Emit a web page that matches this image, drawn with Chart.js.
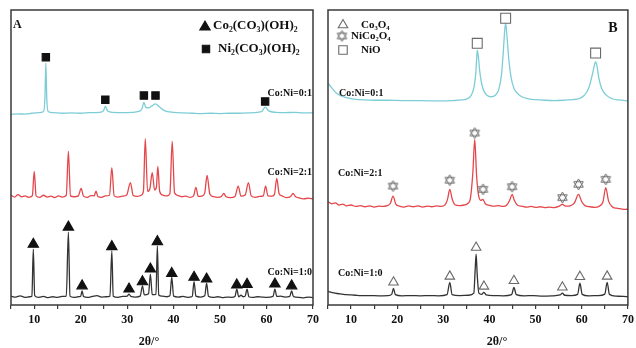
<!DOCTYPE html>
<html>
<head>
<meta charset="utf-8">
<script src="https://cdn.jsdelivr.net/npm/chart.js@4.4.0/dist/chart.umd.min.js"></script>
<style>
  html, body { margin: 0; padding: 0; background: #fff; }
  #wrap { position: relative; width: 636px; height: 348px; overflow: hidden; }
  #chartA { position: absolute; left: 0; top: 0; }
  #chartB { position: absolute; left: 316px; top: 0; }
</style>
</head>
<body>
<div id="wrap">
  <canvas id="chartA" width="330" height="348"></canvas>
  <canvas id="chartB" width="320" height="348"></canvas>
</div>
<script>
// x axis: 2theta in degrees
const xTickLabels = [10, 20, 30, 40, 50, 60, 70];
const xTitle = '2θ/°';

// ---- panel A: precursors, [2theta, stacked intensity] ----
const aCo10 = [[5,3.0],[6,2.7],[7,3.1],[8,2.6],[9,2.8],[9.5,3.0],[9.8,18.9],[10.1,3.2],[11,2.6],[12,2.9],[13,2.5],[14,2.8],[15,2.6],[16,2.9],[16.9,3.0],[17.35,24.7],[17.7,3.0],[18.5,2.6],[19.5,2.8],[20.0,3.0],[20.3,4.8],[20.6,2.9],[21.5,2.6],[22.5,2.9],[23.5,3.2],[24.5,2.7],[25.5,2.8],[26.3,3.0],[26.7,18.3],[27.0,3.0],[28,2.6],[29,2.9],[30,3.0],[30.4,3.7],[30.8,2.9],[31.8,2.7],[32.8,3.0],[33.3,6.5],[33.7,3.4],[34.6,3.8],[35.0,10.5],[35.4,3.5],[36.2,3.6],[36.5,20.0],[36.8,3.4],[37.5,3.0],[38.5,2.8],[39.2,3.1],[39.6,9.4],[40.0,3.0],[41,2.7],[42,2.9],[43,2.6],[44.0,2.9],[44.4,7.9],[44.8,3.0],[45.8,2.7],[46.7,3.1],[47.1,7.4],[47.5,3.0],[48.5,2.6],[49.5,2.8],[50.5,2.5],[51.5,2.7],[52.5,2.6],[53.2,2.9],[53.6,5.4],[54.0,2.8],[54.5,3.3],[55.0,2.8],[55.4,3.0],[55.8,5.4],[56.2,2.8],[57,2.6],[58,2.8],[59,2.7],[60,2.6],[61.4,2.9],[61.8,5.4],[62.2,2.9],[63,3.0],[64,2.7],[65.0,2.9],[65.4,4.8],[65.8,2.8],[67,2.6],[68,2.4],[69,2.7],[70,2.5]];
const aCo21 = [[5,37.2],[5.8,36.6],[6.5,37.4],[7.3,36.7],[8,37.0],[8.8,36.5],[9.6,37.1],[10,45.3],[10.4,37.0],[11.2,36.5],[12,37.2],[12.8,36.6],[13.6,36.9],[14.4,36.4],[15.2,37.0],[16,36.6],[16.9,37.2],[17.35,52.1],[17.8,37.0],[18.6,36.7],[19.5,37.0],[20.1,39.5],[20.6,36.9],[21.4,36.5],[22.2,37.1],[22.9,37.0],[23.3,38.6],[23.7,36.8],[24.5,36.5],[25.3,37.0],[26.2,37.2],[26.7,46.6],[27.2,37.0],[28,36.6],[29,36.9],[29.9,37.3],[30.7,41.5],[31.3,37.1],[32.2,36.8],[33.0,37.2],[33.5,38.5],[33.9,56.4],[34.4,38.5],[34.9,39.5],[35.4,44.9],[35.9,39.0],[36.3,40.0],[36.6,47.0],[37.0,38.5],[37.8,37.2],[38.6,37.0],[39.2,37.8],[39.7,55.5],[40.2,38.0],[41,37.1],[41.8,36.7],[42.6,36.9],[43.5,36.5],[44.3,37.0],[44.8,39.9],[45.3,36.8],[46.2,37.0],[46.7,38.0],[47.2,43.9],[47.8,37.6],[48.6,36.7],[49.5,36.5],[50.3,36.8],[50.8,37.8],[51.3,36.7],[52.2,36.4],[53.2,36.8],[53.9,40.3],[54.5,36.9],[55.4,37.3],[56.1,41.5],[56.7,37.0],[57.6,36.5],[58.5,36.8],[59.3,37.0],[59.8,40.3],[60.3,37.0],[61.2,36.9],[61.7,37.5],[62.2,42.9],[62.7,37.8],[63.3,37.0],[64.2,36.4],[65.2,36.8],[65.7,37.8],[66.2,36.8],[67,36.3],[68,36.0],[69,36.2],[70,35.9]];
const aCo01 = [[5,64.6],[6.5,64.8],[8,64.7],[9.5,65.0],[11,65.2],[12.0,65.6],[12.3,70.0],[12.5,82.0],[12.7,70.0],[13.0,65.6],[14,65.2],[16,65.0],[18,65.1],[20,65.0],[22,65.2],[24,65.3],[24.9,65.8],[25.3,67.3],[25.8,65.8],[27,65.3],[29,65.2],[31,65.3],[32.5,65.6],[33.2,66.5],[33.6,68.7],[34.0,67.0],[34.6,66.8],[35.4,67.6],[36.1,68.2],[36.9,67.2],[38,65.9],[40,65.3],[42,65.1],[44,65.0],[46,64.9],[48,65.0],[50,64.9],[52,65.0],[54,65.0],[56,65.1],[58,65.3],[59.1,65.8],[59.7,67.1],[60.4,65.9],[62,65.3],[64,65.2],[66,65.3],[68,65.1],[70,65.2]];
const aTriangles = [[9.8,20.6],[17.35,26.4],[20.3,6.5],[26.7,19.8],[30.4,5.4],[33.3,7.9],[35.0,12.2],[36.5,21.5],[39.6,10.7],[44.4,9.4],[47.1,8.8],[53.6,6.8],[55.8,7.0],[61.8,7.1],[65.4,6.5]];
const aSquares = [[12.5,84.0],[25.3,69.6],[33.6,71.0],[36.1,71.0],[59.7,69.0]];

// ---- panel B: calcined oxides ----
const bCo10 = [[5,4.6],[6,4.2],[7,3.9],[8,3.7],[9,3.5],[10,3.4],[11,3.3],[12,3.2],[14,3.2],[16,3.1],[18,3.2],[18.8,3.6],[19.2,5.6],[19.6,3.5],[21,3.1],[23,3.2],[25,3.1],[27,3.2],[29,3.1],[30.8,3.5],[31.4,7.7],[31.9,3.5],[33.5,3.2],[35.5,3.3],[36.6,4.0],[36.9,12.0],[37.1,17.2],[37.35,10.0],[37.7,4.0],[38.3,3.6],[38.8,4.3],[39.3,3.4],[41,3.2],[43,3.1],[44.8,3.5],[45.3,6.0],[45.8,3.5],[47.5,3.1],[49.5,3.2],[51.5,3.0],[53.5,3.1],[55.3,3.4],[55.8,4.0],[56.3,3.3],[57.8,3.2],[59.1,3.6],[59.6,7.4],[60.1,3.6],[61.5,3.1],[63.5,3.2],[65.0,3.7],[65.5,7.7],[66.0,3.6],[67.5,3.0],[69,2.9],[70,2.8]];
const bCo21 = [[5,35.0],[5.8,34.3],[6.6,34.6],[7.4,33.9],[8.2,34.2],[9,33.6],[10,33.9],[11,33.4],[12,33.7],[13,33.3],[14,33.6],[15,33.2],[16,33.5],[17,33.4],[17.8,33.7],[18.5,34.4],[19.1,36.9],[19.7,34.2],[20.5,33.5],[21.5,33.2],[22.5,33.6],[23.5,33.3],[24.5,33.6],[25.5,33.2],[26.5,33.5],[27.5,33.3],[28.5,33.6],[29.5,33.4],[30.4,34.0],[30.9,35.8],[31.4,39.2],[31.9,36.0],[32.5,34.0],[33.5,33.7],[34.5,33.9],[35.3,34.4],[35.9,36.5],[36.4,45.0],[36.8,56.1],[37.2,44.0],[37.6,37.5],[38.1,35.5],[38.6,35.8],[39.1,34.3],[40,33.8],[41,33.5],[42,33.7],[43,33.4],[43.8,34.0],[44.4,35.6],[44.9,37.5],[45.4,35.4],[46.1,33.8],[47,33.5],[48,33.2],[49,33.4],[50,33.1],[51,33.3],[52,33.0],[53,33.2],[54,33.0],[55,33.4],[55.8,34.1],[56.5,33.5],[57.5,33.6],[58.4,34.6],[59.3,37.5],[60,35.0],[60.8,33.6],[61.8,33.3],[62.8,33.1],[63.8,33.5],[64.6,35.0],[65.2,39.8],[65.8,35.3],[66.6,33.3],[67.5,32.8],[68.5,32.6],[69.3,32.4],[70,32.5]];
const bCo01 = [[5,75.2],[5.8,73.6],[6.8,71.9],[8,70.8],[9.5,70.1],[11,69.7],[13,69.5],[15,69.4],[18,69.4],[21,69.3],[24,69.3],[27,69.2],[30,69.2],[32,69.3],[34,69.5],[35,69.8],[36,71.0],[36.6,73.5],[37.0,78.0],[37.2,83.0],[37.35,86.4],[37.6,84.0],[37.9,79.0],[38.3,75.0],[38.8,72.5],[39.5,71.0],[40.4,70.6],[41.2,71.0],[42.0,73.0],[42.6,78.0],[43.0,86.0],[43.3,93.0],[43.5,95.5],[43.8,91.0],[44.2,83.0],[44.7,77.0],[45.3,73.5],[46,71.8],[47,70.6],[48.5,69.9],[50,69.6],[52,69.4],[54,69.3],[56,69.4],[58,69.6],[59.5,70.0],[60.5,71.0],[61.5,73.5],[62.2,77.5],[62.7,81.0],[63.0,82.5],[63.3,81.0],[63.7,77.0],[64.3,73.5],[65.2,71.3],[66.5,70.0],[68,69.5],[70,69.2]];
const bTriangles = [[19.2,7.7],[31.4,9.7],[37.1,19.5],[38.8,6.3],[45.3,8.2],[55.8,6.0],[59.6,9.6],[65.5,9.7]];
const bStars = [[19.1,40.3],[31.4,42.3],[36.8,58.3],[38.6,39.2],[44.9,40.1],[55.8,36.4],[59.3,40.9],[65.2,42.6]];
const bSquares = [[37.35,88.7],[43.5,97.2],[63.0,85.4]];

const SERIF = '"Liberation Serif", "Times New Roman", serif';
const FRAME = '#3a3a3a';
const CYAN = '#7ccdd6';
const RED = '#e4474b';
const BLACK = '#333333';
const MARK = '#6a6a6a';

// hexagram marker for NiCo2O4
function makeHexagram(r) {
  const c = document.createElement('canvas');
  c.width = c.height = Math.ceil(r * 2 + 4);
  const g = c.getContext('2d');
  const cx = c.width / 2, cy = c.height / 2;
  g.strokeStyle = MARK;
  g.lineWidth = 1;
  [0, Math.PI].forEach(off => {
    g.beginPath();
    for (let i = 0; i < 3; i++) {
      const a = off - Math.PI / 2 + i * 2 * Math.PI / 3;
      const px = cx + r * Math.cos(a), py = cy + r * Math.sin(a);
      if (i === 0) g.moveTo(px, py); else g.lineTo(px, py);
    }
    g.closePath();
    g.stroke();
  });
  return c;
}
const hexagram = makeHexagram(5.5);

function line(data, color) {
  return {
    data: data,
    borderColor: color,
    borderWidth: 1.3,
    pointRadius: 0,
    cubicInterpolationMode: 'monotone',
    fill: false
  };
}
function marks(data, style, radius, fill, stroke) {
  return {
    data: data,
    showLine: false,
    pointStyle: style,
    pointRadius: radius,
    pointBackgroundColor: fill,
    pointBorderColor: stroke,
    pointBorderWidth: 1.1
  };
}

// frame, tick labels, axis title, sample labels and legend
const framePlugin = {
  id: 'frame',
  afterDraw(chart, args, opts) {
    const ctx = chart.ctx, a = chart.chartArea, xs = chart.scales.x;
    ctx.save();
    ctx.strokeStyle = FRAME;
    ctx.lineWidth = 1.5;
    ctx.strokeRect(a.left, a.top, a.right - a.left, a.bottom - a.top);
    ctx.textBaseline = 'middle';
    ctx.fillStyle = '#111';
    ctx.textAlign = 'center';
    ctx.font = 'bold 12px ' + SERIF;
    xTickLabels.forEach(v => ctx.fillText(String(v), xs.getPixelForValue(v), a.bottom + 15));
    ctx.fillText(xTitle, opts.titleX, a.bottom + 37);
    (opts.texts || []).forEach(t => {
      ctx.font = 'bold ' + t.size + 'px ' + SERIF;
      ctx.textAlign = t.align || 'left';
      ctx.fillText(t.text, t.x, t.y);
    });
    (opts.symbols || []).forEach(s => {
      if (s.image) {
        ctx.drawImage(s.image, s.x - s.image.width / 2, s.y - s.image.height / 2);
        return;
      }
      ctx.fillStyle = s.fill;
      ctx.strokeStyle = s.stroke;
      ctx.lineWidth = 1.1;
      Chart.helpers.drawPoint(ctx, { pointStyle: s.style, radius: s.r, rotation: 0, borderWidth: 1.1 }, s.x, s.y);
    });
    ctx.restore();
  }
};

function xAxis() {
  return {
    type: 'linear',
    min: 5,
    max: 70,
    border: { display: false },
    grid: { drawOnChartArea: false, drawTicks: true, tickLength: 4, color: FRAME, lineWidth: 1.2 },
    ticks: { display: false, stepSize: 5, autoSkip: false }
  };
}

function baseOptions(pad, frame) {
  return {
    responsive: false,
    animation: false,
    layout: { padding: pad },
    plugins: { legend: { display: false }, tooltip: { enabled: false }, frame: frame },
    scales: {
      x: xAxis(),
      y: { display: false, min: 0, max: 100 }
    }
  };
}

new Chart(document.getElementById('chartA'), {
  type: 'line',
  data: {
    datasets: [
      marks(aTriangles, 'triangle', 6, '#111', '#111'),
      marks(aSquares, 'rect', 5.2, '#111', '#111'),
      line(aCo01, CYAN),
      line(aCo21, RED),
      line(aCo10, BLACK)
    ]
  },
  options: baseOptions({ left: 11, right: 17, top: 10, bottom: 39 }, {
    titleX: 149,
    texts: [
      { text: 'A', x: 13, y: 25, size: 12 },
      { text: 'Co₂(CO₃)(OH)₂', x: 213, y: 26, size: 13 },
      { text: 'Ni₂(CO₃)(OH)₂', x: 218, y: 49, size: 13 },
      { text: 'Co:Ni=0:1', x: 312, y: 93, size: 10, align: 'right' },
      { text: 'Co:Ni=2:1', x: 312, y: 172, size: 10, align: 'right' },
      { text: 'Co:Ni=1:0', x: 312, y: 272, size: 10, align: 'right' }
    ],
    symbols: [
      { style: 'triangle', r: 6, x: 205, y: 27, fill: '#111', stroke: '#111' },
      { style: 'rect', r: 5.2, x: 206, y: 49, fill: '#111', stroke: '#111' }
    ]
  }),
  plugins: [framePlugin]
});

new Chart(document.getElementById('chartB'), {
  type: 'line',
  data: {
    datasets: [
      marks(bTriangles, 'triangle', 5.5, '#fff', MARK),
      marks(bStars, hexagram, 6, '#fff', MARK),
      marks(bSquares, 'rect', 7, '#fff', MARK),
      line(bCo01, CYAN),
      line(bCo21, RED),
      line(bCo10, BLACK)
    ]
  },
  options: baseOptions({ left: 12, right: 7, top: 10, bottom: 39 }, {
    titleX: 181,
    texts: [
      { text: 'B', x: 297, y: 28, size: 14, align: 'center' },
      { text: 'Co₃O₄', x: 45, y: 25, size: 11 },
      { text: 'NiCo₂O₄', x: 35, y: 36, size: 11 },
      { text: 'NiO', x: 45, y: 50, size: 11 },
      { text: 'Co:Ni=0:1', x: 23, y: 93, size: 10 },
      { text: 'Co:Ni=2:1', x: 22, y: 173, size: 10 },
      { text: 'Co:Ni=1:0', x: 22, y: 273, size: 10 }
    ],
    symbols: [
      { style: 'triangle', r: 5.5, x: 27, y: 25, fill: '#fff', stroke: MARK },
      { image: hexagram, x: 26, y: 36 },
      { style: 'rect', r: 6, x: 27, y: 50, fill: '#fff', stroke: MARK }
    ]
  }),
  plugins: [framePlugin]
});
</script>
</body>
</html>
